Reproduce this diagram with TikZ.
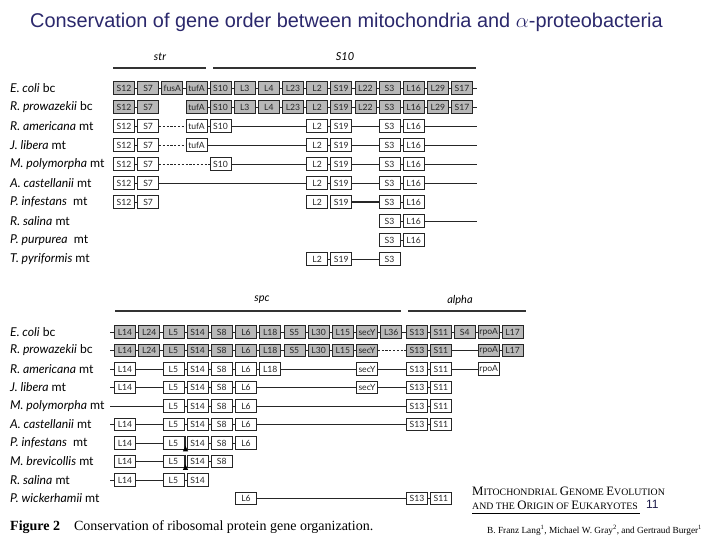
\documentclass[tikz,border=0pt]{standalone}
\usepackage{fontspec}
\setmainfont{Liberation Serif}
\setsansfont{Lato}
\newfontfamily\slidefont{Liberation Sans}
\usetikzlibrary{calc}

\definecolor{titleblue}{RGB}{43,40,108}
\definecolor{boxgray}{RGB}{184,184,184}

% gene names per column
\def\topgenes{{"S12","S7","fusA","tufA","S10","L3","L4","L23","L2","S19","L22","S3","L16","L29","S17"}}
\def\botgenes{{"L14","L24","L5","S14","S8","L6","L18","S5","L30","L15","secY","L36","S13","S11","S4","rpoA","L17"}}

% boxes of one row: style, row, columns
\newcommand{\topbox}[3]{%
  \foreach \c in {#3} {
    \pgfmathsetmacro{\gx}{124+24.14*\c}
    \pgfmathsetmacro{\gy}{88+19*(#2-1)}
    \pgfmathsetmacro{\gn}{\topgenes[\c]}
    \node[#1] (t#2c\c) at (\gx,\gy) {\gn};
  }}
\newcommand{\botbox}[3]{%
  \foreach \c in {#3} {
    \pgfmathsetmacro{\gx}{ifthenelse(\c<12, 125+24.2*\c, 417+23.9*(\c-12))}
    \pgfmathsetmacro{\gy}{332+18.5*(#2-1)}
    \pgfmathsetmacro{\gn}{\botgenes[\c]}
    \node[#1] (b#2c\c) at (\gx,\gy) {\gn};
  }}
% connectors: style, name prefix, pairs
\newcommand{\links}[3]{\foreach \a/\b in {#3} \draw[#1] (#2\a) -- (#2\b);}
\newcommand{\chain}[3]{%
  \foreach \c in {#2,...,#3} {
    \pgfmathtruncatemacro{\n}{\c+1}
    \draw[link] (#1\c) -- (#1\n);
  }}
\newcommand{\capl}[1]{{\fontsize{12.8}{14}\selectfont #1}}

\tikzset{
  gene/.style={draw=black!85, fill=white, line width=0.6pt, minimum width=21pt,
    minimum height=12.5pt, inner sep=0pt, text=black!85,
    font=\sffamily\fontsize{8.6}{9}\selectfont},
  bgene/.style={gene, fill=boxgray},
  link/.style={line width=0.7pt, black!85},
  dlink/.style={link, dash pattern=on 2.2pt off 1.6pt},
  orgname/.style={anchor=west, inner sep=0pt, font=\sffamily\fontsize{12.2}{14}\selectfont},
  operon/.style={line width=1.6pt, black!80},
  opname/.style={inner sep=0pt, font=\sffamily\itshape\fontsize{11}{13}\selectfont},
}

\begin{document}
\begin{tikzpicture}[x=1pt, y=-1pt]

  \fill[white] (0,0) rectangle (720,540);
  \useasboundingbox (0,0) rectangle (720,540);

  % --- 1. title ---
  \node[anchor=west, inner sep=0pt, text=titleblue, font=\slidefont\fontsize{19.9}{22}\selectfont]
    (title) at (30,22) {Conservation of gene order between mitochondria and $\alpha$-proteobacteria};

  % --- 2. str / S10 clusters ---
  \draw[operon] (113,68) -- (206,68);
  \draw[operon] (213,68) -- (476,68);
  \node[opname] (str) at (160,57) {str};
  \node[opname] (s10) at (345,57) {S10};

  \foreach \r/\org in {1/{\textit{E. coli} bc}, 2/{\textit{R. prowazekii} bc},
      3/{\textit{R. americana} mt}, 4/{\textit{J. libera} mt}, 5/{\textit{M. polymorpha} mt},
      6/{\textit{A. castellanii} mt}, 7/{\textit{P. infestans}\ \ mt}, 8/{\textit{R. salina} mt},
      9/{\textit{P. purpurea}\ \ mt}, 10/{\textit{T. pyriformis} mt}}
    \node[orgname] (torg\r) at (10,{88+19*(\r-1)}) {\org};
  \foreach \r in {1,...,6,8}
    \coordinate (t\r cend) at (477,{88+19*(\r-1)});

  % E. coli, R. prowazekii
  \topbox{bgene}{1}{0,...,14}
  \chain{t1c}{0}{13}
  \links{link}{t1c}{14/end}
  \topbox{bgene}{2}{0,1,3,4,...,14}
  \chain{t2c}{3}{13}
  \links{link}{t2c}{0/1,14/end}

  % mitochondria
  \topbox{gene}{3}{0,1,3,4,8,9,11,12}
  \links{link}{t3c}{0/1,3/4,4/8,8/9,9/11,11/12,12/end}
  \links{dlink}{t3c}{1/3}
  \topbox{gene}{4}{0,1,3,8,9,11,12}
  \links{link}{t4c}{0/1,3/8,8/9,9/11,11/12,12/end}
  \links{dlink}{t4c}{1/3}
  \topbox{gene}{5}{0,1,4,8,9,11,12}
  \links{link}{t5c}{0/1,4/8,8/9,9/11,11/12,12/end}
  \links{dlink}{t5c}{1/4}
  \topbox{gene}{6}{0,1,8,9,11,12}
  \links{link}{t6c}{0/1,1/8,8/9,9/11,11/12,12/end}
  \topbox{gene}{7}{0,1,8,9,11,12}
  \links{link}{t7c}{0/1,11/12}
  \links{link, line width=1.2pt}{t7c}{9/11}
  \topbox{gene}{8}{11,12}
  \links{link}{t8c}{11/12,12/end}
  \topbox{gene}{9}{11,12}
  \links{link}{t9c}{11/12}
  \topbox{gene}{10}{8,9,11}
  \links{link}{t10c}{8/9,9/11}

  % --- 3. spc / alpha clusters ---
  \draw[operon] (115,311) -- (401,311);
  \draw[operon] (408,311) -- (526,311);
  \node[opname] (spc) at (262,300) {spc};
  \node[opname] (alpha) at (460,300) {alpha};

  \foreach \r/\org in {1/{\textit{E. coli} bc}, 2/{\textit{R. prowazekii} bc},
      3/{\textit{R. americana} mt}, 4/{\textit{J. libera} mt}, 5/{\textit{M. polymorpha} mt},
      6/{\textit{A. castellanii} mt}, 7/{\textit{P. infestans}\ \ mt}, 8/{\textit{M. brevicollis} mt},
      9/{\textit{R. salina} mt}, 10/{\textit{P. wickerhamii} mt}}
    \node[orgname] (borg\r) at (10,{332+18.5*(\r-1)}) {\org};
  \foreach \r in {1,...,6,9}
    \coordinate (b\r cbeg) at (110,{332+18.5*(\r-1)});

  % E. coli, R. prowazekii
  \botbox{bgene}{1}{0,...,16}
  \chain{b1c}{0}{15}
  \links{link}{b1c}{beg/0}
  \botbox{bgene}{2}{0,...,10,12,13,15,16}
  \chain{b2c}{0}{9}
  \links{link}{b2c}{beg/0,12/13,13/15,15/16}
  \links{dlink}{b2c}{10/12}

  % mitochondria
  \botbox{gene}{3}{0,2,3,4,5,6,10,12,13,15}
  \links{link}{b3c}{beg/0,0/2,2/3,3/4,4/5,5/6,6/10,10/12,12/13,13/15}
  \botbox{gene}{4}{0,2,3,4,5,10,12,13}
  \links{link}{b4c}{beg/0,0/2,2/3,3/4,4/5,5/10,10/12,12/13}
  \botbox{gene}{5}{2,3,4,5,12,13}
  \links{link}{b5c}{beg/2,2/3,3/4,4/5,5/12,12/13}
  \botbox{gene}{6}{0,2,3,4,5,12,13}
  \links{link}{b6c}{beg/0,0/2,2/3,3/4,4/5,5/12,12/13}
  \botbox{gene}{7}{0,2,3,4,5}
  \links{link}{b7c}{0/2,3/4,4/5}
  \botbox{gene}{8}{0,2,3,4}
  \links{link}{b8c}{0/2,3/4}
  \botbox{gene}{9}{0,2,3}
  \links{link}{b9c}{beg/0,0/2,2/3}
  \botbox{gene}{10}{5,12,13}
  \links{link}{b10c}{5/12,12/13}

  % breakpoint marks between L5 and S14
  \foreach \r in {7,8} {
    \coordinate (m\r) at ($(b\r c2.north east)!.5!(b\r c3.north west)$);
    \draw[link] (m\r) -- ++(0,14) coordinate (m\r b);
    \fill[black] ($(m\r b)+(-2.6,1)$) -- ++(5.2,0) -- ++(-2.6,-5.5) -- cycle;
  }

  % --- 4. caption and book title ---
  \node[anchor=west, inner sep=0pt, font=\fontsize{14}{16}\selectfont]
    (caption) at (10,527) {\textbf{Figure 2}\quad Conservation of ribosomal protein gene organization.};
  \node[anchor=west, inner sep=0pt, font=\fontsize{9.8}{11}\selectfont] (book1) at (472,491)
    {\capl{M}ITOCHONDRIAL \capl{G}ENOME \capl{E}VOLUTION};
  \node[anchor=west, inner sep=0pt, font=\fontsize{9.8}{11}\selectfont] (book2) at (472,505)
    {AND THE \capl{O}RIGIN OF \capl{E}UKARYOTES};
  \node[anchor=west, inner sep=0pt, text=titleblue!70!black, font=\slidefont\fontsize{12}{14}\selectfont]
    (pageno) at (646,504) {11};
  \draw[line width=0.6pt] (472,513) -- (640,513);
  \node[anchor=west, inner sep=0pt, font=\fontsize{9.3}{10}\selectfont] (authors) at (487,530)
    {B. Franz Lang\textsuperscript{1}, Michael W. Gray\textsuperscript{2}, and Gertraud Burger\textsuperscript{1}};

\end{tikzpicture}
\end{document}
